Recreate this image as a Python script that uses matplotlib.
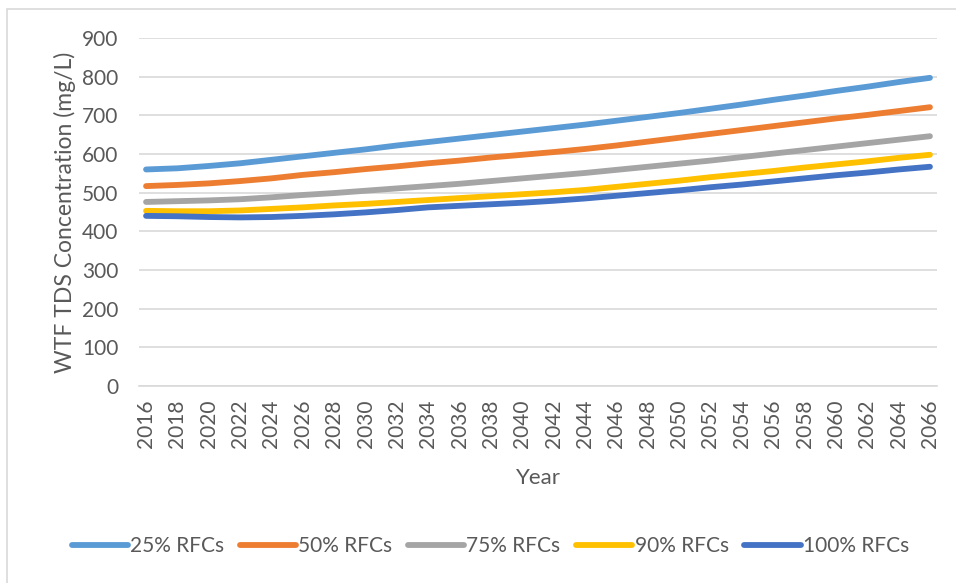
import numpy as np
import matplotlib
matplotlib.use('Agg')
import matplotlib.pyplot as plt
from matplotlib.patches import Rectangle

plt.rcParams['font.family'] = ['Lato', 'DejaVu Sans']

years = list(range(2016, 2067, 2))

rfc_25 = [560, 563, 569, 576, 585, 594, 603, 612, 622, 631, 640, 649, 658,
          667, 676, 686, 696, 706, 717, 728, 740, 751, 763, 774, 786, 797]
rfc_50 = [517, 520, 524, 530, 537, 546, 553, 561, 568, 576, 583, 591, 598,
          605, 613, 622, 632, 642, 652, 662, 672, 682, 692, 701, 711, 721]
rfc_75 = [476, 478, 480, 483, 488, 494, 499, 505, 511, 517, 523, 530, 537,
          544, 551, 559, 567, 575, 583, 592, 601, 610, 619, 628, 637, 646]
rfc_90 = [453, 452, 452, 454, 458, 462, 467, 471, 476, 481, 486, 491, 496,
          501, 507, 515, 523, 531, 540, 548, 556, 565, 573, 581, 590, 598]
rfc_100 = [440, 439, 437, 436, 437, 440, 444, 449, 455, 462, 466, 470, 474,
           479, 485, 492, 499, 506, 514, 521, 529, 537, 545, 552, 560, 567]

labels = ['25% RFCs', '50% RFCs', '75% RFCs', '90% RFCs', '100% RFCs']
colors = ['#5b9bd5', '#ed7d31', '#a5a5a5', '#ffc000', '#4472c4']
series = [rfc_25, rfc_50, rfc_75, rfc_90, rfc_100]

fig = plt.figure(figsize=(9.56, 5.83), dpi=100)
ax = fig.add_axes([139 / 956, 1 - 386 / 583, (937 - 139) / 956, (386 - 38) / 583])

# chart border like the excel chart area
fig.patches.append(Rectangle((7 / 956, -0.05), 1.1, 1.05 - 9 / 583,
                             transform=fig.transFigure, fill=False,
                             edgecolor='#d9d9d9', linewidth=1.2))

for vals, lab, col in zip(series, labels, colors):
    ax.plot(years, vals, color=col, lw=4.2, label=lab, solid_capstyle='round')

ax.set_xlim(2015.55, 2066.45)
ax.set_ylim(0, 900)
ax.set_yticks(np.arange(0, 901, 100))
ax.set_xticks(years)
ax.set_xticklabels([str(y) for y in years], rotation=90)
ax.yaxis.grid(True, color='#d9d9d9', lw=1.2)
ax.set_axisbelow(True)
for s in ['top', 'right', 'left']:
    ax.spines[s].set_visible(False)
ax.spines['bottom'].set_color('#d9d9d9')
ax.spines['bottom'].set_linewidth(1.2)
ax.tick_params(length=0, labelsize=15, colors='#595959', pad=10)
ax.tick_params(axis='y', pad=15)

ax.set_ylabel('WTF TDS Concentration (mg/L)', fontsize=16.5, color='#595959', labelpad=4)
ax.set_xlabel('Year', fontsize=16, color='#595959', labelpad=14)

fig.legend(loc='center', bbox_to_anchor=(0.513, 1 - 546 / 583), ncol=5,
           frameon=False, fontsize=15, handlelength=2.7, handletextpad=0.1,
           columnspacing=0.75, labelcolor='#595959')

fig.savefig('out.png', dpi=100)
